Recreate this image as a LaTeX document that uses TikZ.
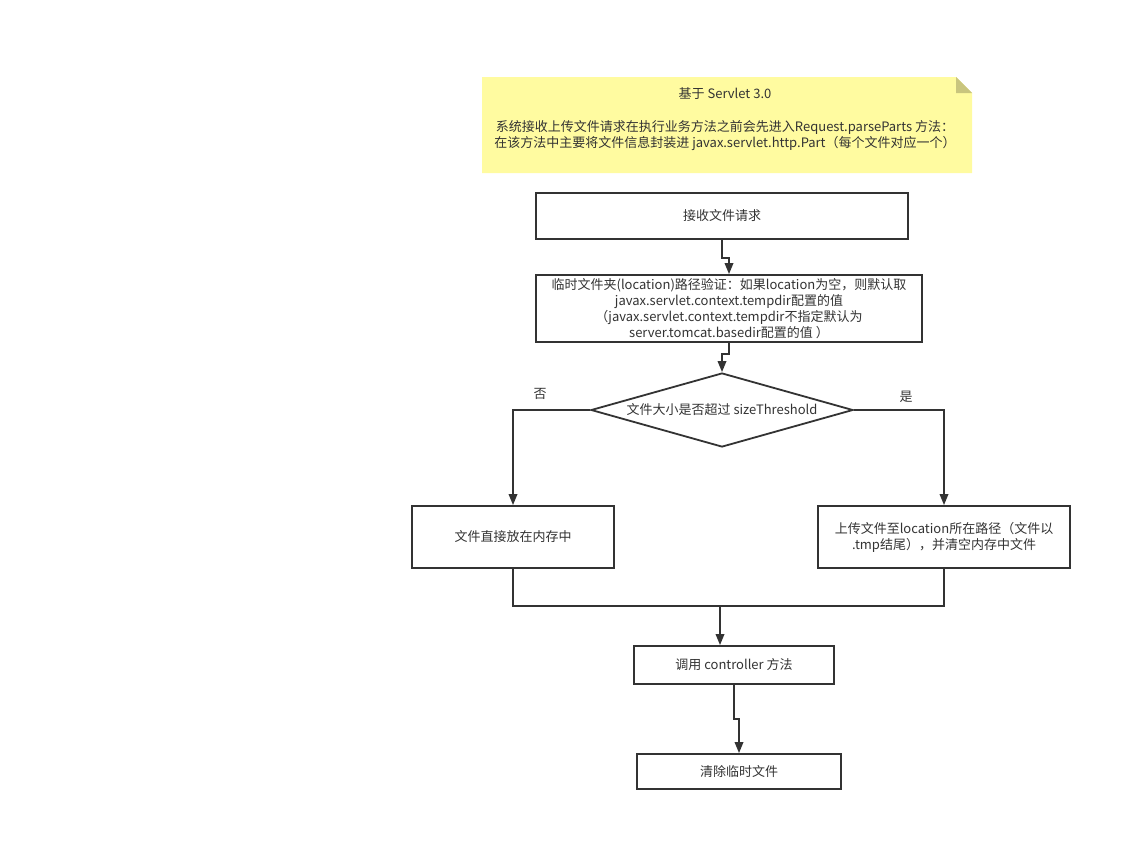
\documentclass[tikz,border=0pt]{standalone}
\usepackage{fontspec}
\setmainfont{Noto Sans CJK SC}
\usetikzlibrary{arrows.meta,shapes.geometric}
\definecolor{lc}{HTML}{333333}
\definecolor{notefill}{HTML}{FFFBA0}
\definecolor{notefold}{HTML}{C9C57E}
\tikzset{
  every node/.style={font=\fontsize{13}{16}\selectfont, text=lc},
  box/.style={draw=lc, line width=1.8pt, fill=white, inner sep=0pt, align=center},
  conn/.style={draw=lc, line width=1.8pt},
  arr/.style={conn, -{Triangle[length=11pt,width=8.5pt]}},
  lbl/.style={inner sep=0pt},
}
\begin{document}
\begin{tikzpicture}[x=1pt,y=-1pt]
\path[use as bounding box] (0,0) rectangle (1131,852);
% note
\fill[notefill] (482,77) -- (956,77) -- (972,93) -- (972,173) -- (482,173) -- cycle;
\fill[notefold] (956,77) -- (972,93) -- (956,93) -- cycle;
\node[lbl, align=center, font=\fontsize{13}{16.5}\selectfont] (note) at (725,119)
  {基于 Servlet 3.0\\[16.5pt]
   系统接收上传文件请求在执行业务方法之前会先进入Request.parseParts 方法：\\
   在该方法中主要将文件信息封装进 javax.servlet.http.Part（每个文件对应一个）};
% boxes
\node[box, minimum width=372pt, minimum height=46pt] (b1) at (722,216) {接收文件请求};
\node[box, minimum width=386pt, minimum height=67pt] (b2) at (729,308.5)
  {临时文件夹(location)路径验证：如果location为空，则默认取\\
   javax.servlet.context.tempdir配置的值\\
   （javax.servlet.context.tempdir不指定默认为\\
   server.tomcat.basedir配置的值 ）};
\node[box, shape=diamond, aspect=3.5, minimum width=262pt, minimum height=74pt] (d) at (722,410)
  {文件大小是否超过 sizeThreshold};
\node[box, minimum width=202pt, minimum height=62pt] (b3) at (513,537) {文件直接放在内存中};
\node[box, minimum width=252pt, minimum height=62pt] (b4) at (944,537)
  {上传文件至location所在路径（文件以\\ .tmp结尾），并清空内存中文件};
\node[box, minimum width=200pt, minimum height=38pt] (b5) at (734,665) {调用 controller 方法};
\node[box, minimum width=204pt, minimum height=35pt] (b6) at (739,771.5) {清除临时文件};
\node[lbl] (no) at (540,394) {否};
\node[lbl] (yes) at (906,397) {是};
\coordinate (m) at (720,606);
% connectors
\draw[arr] (b1.south) -- ++(0,18) -| (b2.north);
\draw[arr] (b2.south) -- ++(0,11) -| (d.north);
\draw[arr] (d.west) -| (b3.north);
\draw[arr] (d.east) -| (b4.north);
\draw[conn] (b3.south) |- (m) -| (b4.south);
\draw[arr] (m) -- (m |- b5.north);
\draw[arr] (b5.south) -- ++(0,34) -| (b6.north);
\end{tikzpicture}
\end{document}
